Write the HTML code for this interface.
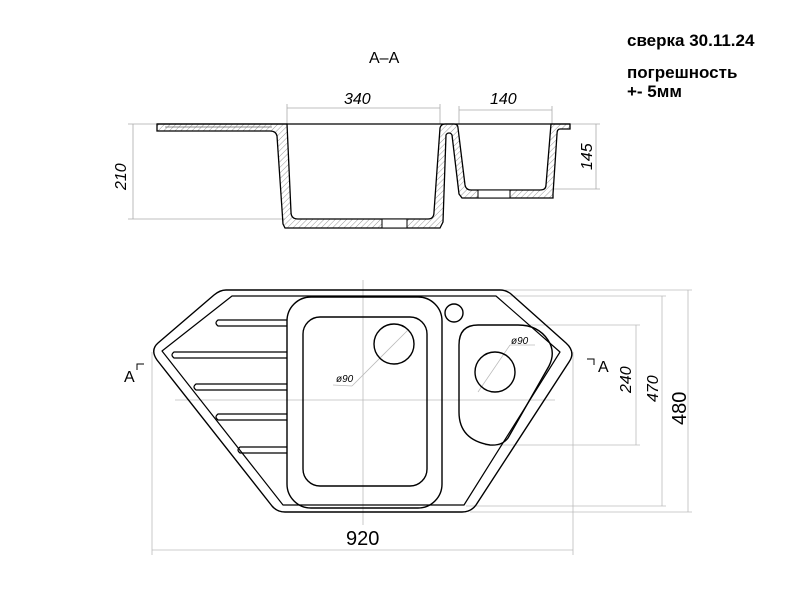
<!DOCTYPE html>
<html><head><meta charset="utf-8"><style>
html,body{margin:0;padding:0;background:#fff;}
svg{display:block;}
.t{font-family:"Liberation Sans","DejaVu Sans",sans-serif;}
</style></head><body>
<svg width="800" height="600" viewBox="0 0 800 600" xmlns="http://www.w3.org/2000/svg">
<defs>
<pattern id="h" width="4" height="4" patternUnits="userSpaceOnUse" patternTransform="rotate(45)">
<line x1="0" y1="0" x2="0" y2="4" stroke="#999" stroke-width="1"/>
</pattern>
</defs>
<rect width="800" height="600" fill="#fff"/>

<g class="t" font-weight="bold" fill="#000">
<text x="627" y="46" font-size="17">сверка 30.11.24</text>
<text x="627" y="78" font-size="17">погрешность</text>
<text x="627" y="97" font-size="17">+- 5мм</text>
</g>
<text class="t" x="369" y="63" font-size="16" fill="#000">A–A</text>

<g stroke="#aaa" stroke-width="0.8" fill="none">
<line x1="287" y1="104" x2="287" y2="124"/><line x1="440" y1="104" x2="440" y2="124"/>
<line x1="287" y1="108" x2="440" y2="108"/>
<line x1="459" y1="106" x2="459" y2="124"/><line x1="552" y1="106" x2="552" y2="124"/>
<line x1="459" y1="110" x2="552" y2="110"/>
<line x1="128" y1="124" x2="157" y2="124"/><line x1="128" y1="219" x2="285" y2="219"/>
<line x1="133" y1="124" x2="133" y2="219"/>
<line x1="570" y1="124" x2="600" y2="124"/><line x1="553" y1="189" x2="600" y2="189"/>
<line x1="596" y1="124" x2="596" y2="189"/>
</g>
<text class="t" x="344" y="104" font-size="16" font-style="italic" fill="#000">340</text>
<text class="t" x="490" y="104" font-size="16" font-style="italic" fill="#000">140</text>
<text class="t" transform="translate(126,190) rotate(-90)" font-size="16" font-style="italic" fill="#000">210</text>
<text class="t" transform="translate(592,170) rotate(-90)" font-size="16" font-style="italic" fill="#000">145</text>

<path d="M157,124 L287,124 L291,212 Q291,219 298,219 L428,219 Q434,219 434,212 L440,128 Q441,124 445,124 L454,124 Q458,124 458,128 L465,185 Q466,190 471,190 L540,190 Q546,190 546,185 L551,124 L570,124 L570,129 L560,129 Q557,129 557,134 L553,194 L553,198 L462,198 L459,194 L452,135 Q451,133 449,133 Q447,133 446,135 L443,222 L440,228 L285,228 L283,224 L277,136 Q276,131 270,131 L157,131 Z" fill="url(#h)" stroke="#000" stroke-width="1.3"/>
<line x1="157" y1="124" x2="570" y2="124" stroke="#000" stroke-width="1.3"/>
<line x1="165" y1="127" x2="272" y2="127" stroke="#666" stroke-width="0.8"/>
<rect x="382" y="219" width="25" height="9" fill="#fff" stroke="#000" stroke-width="1"/>
<rect x="478" y="190" width="32" height="8" fill="#fff" stroke="#000" stroke-width="1"/>

<g stroke="#bbb" stroke-width="0.8" fill="none">
<line x1="363" y1="280" x2="363" y2="525"/>
<line x1="175" y1="400" x2="555" y2="400"/>
<line x1="505" y1="290" x2="692" y2="290"/><line x1="500" y1="296" x2="666" y2="296"/>
<line x1="520" y1="325" x2="640" y2="325"/><line x1="485" y1="445" x2="640" y2="445"/>
<line x1="466" y1="506" x2="666" y2="506"/><line x1="470" y1="512" x2="692" y2="512"/>
<line x1="152" y1="352" x2="152" y2="555"/><line x1="573" y1="352" x2="573" y2="555"/>
<line x1="152" y1="550" x2="573" y2="550"/>
<line x1="636" y1="325" x2="636" y2="445"/>
<line x1="662" y1="296" x2="662" y2="506"/>
<line x1="688" y1="290" x2="688" y2="512"/>
<line x1="352" y1="386" x2="408" y2="330"/><line x1="333" y1="385" x2="352" y2="386"/>
<line x1="478" y1="392" x2="510" y2="345"/><line x1="510" y1="345" x2="535" y2="345"/>
</g>
<g stroke="#000" stroke-width="1.4" fill="none" stroke-linejoin="round">
<path d="M226,290 L500,290 Q506,290 511,294 L566,343 Q576,352 569,362 L476,505 Q471,512 462,512 L285,512 Q277,512 272,506 L157,360 Q150,350 158,343 L214,295 Q220,290 226,290 Z"/>
<path d="M232,296 L496,296 L560,352 L464,505 L283,505 L162,351 Z" stroke-width="1.2"/>
<rect x="287" y="297" width="155" height="211" rx="24"/>
<rect x="303" y="317" width="124" height="169" rx="17"/>
<circle cx="394" cy="344" r="20"/>
<circle cx="495" cy="372" r="20"/>
<circle cx="454" cy="313" r="9"/>
<path d="M478,325 L518,325 Q538,325 548,340 Q556,352 549,366 L508,438 Q502,446 490,445 Q459,440 459,412 L459,345 Q459,325 478,325 Z"/>
</g>
<g stroke="#000" stroke-width="1.2" fill="none">
<path d="M287,320 L218,320 Q214,323 218,326 L287,326"/>
<path d="M287,352 L174,352 Q170,355 174,358 L287,358"/>
<path d="M287,384 L196,384 Q192,387 196,390 L287,390"/>
<path d="M287,414 L218,414 Q214,417 218,420 L287,420"/>
<path d="M287,447 L240,447 Q236,450 240,453 L287,453"/>
</g>
<g class="t" fill="#000" font-style="italic">
<text x="336" y="382" font-size="10">ø90</text>
<text x="511" y="344" font-size="10">ø90</text>
</g>
<text class="t" x="346" y="545" font-size="20" fill="#000">920</text>
<text class="t" transform="translate(686,425) rotate(-90)" font-size="20" fill="#000">480</text>
<text class="t" transform="translate(658,402) rotate(-90)" font-size="16" font-style="italic" fill="#000">470</text>
<text class="t" transform="translate(631,393) rotate(-90)" font-size="16" font-style="italic" fill="#000">240</text>
<text class="t" x="124" y="382" font-size="16" fill="#000">A</text>
<path d="M137,370 L137,364 L144,364" stroke="#000" stroke-width="1" fill="none"/>
<text class="t" x="598" y="372" font-size="16" fill="#000">A</text>
<path d="M587,359 L594,359 L594,365" stroke="#000" stroke-width="1" fill="none"/>
</svg>
</body></html>
